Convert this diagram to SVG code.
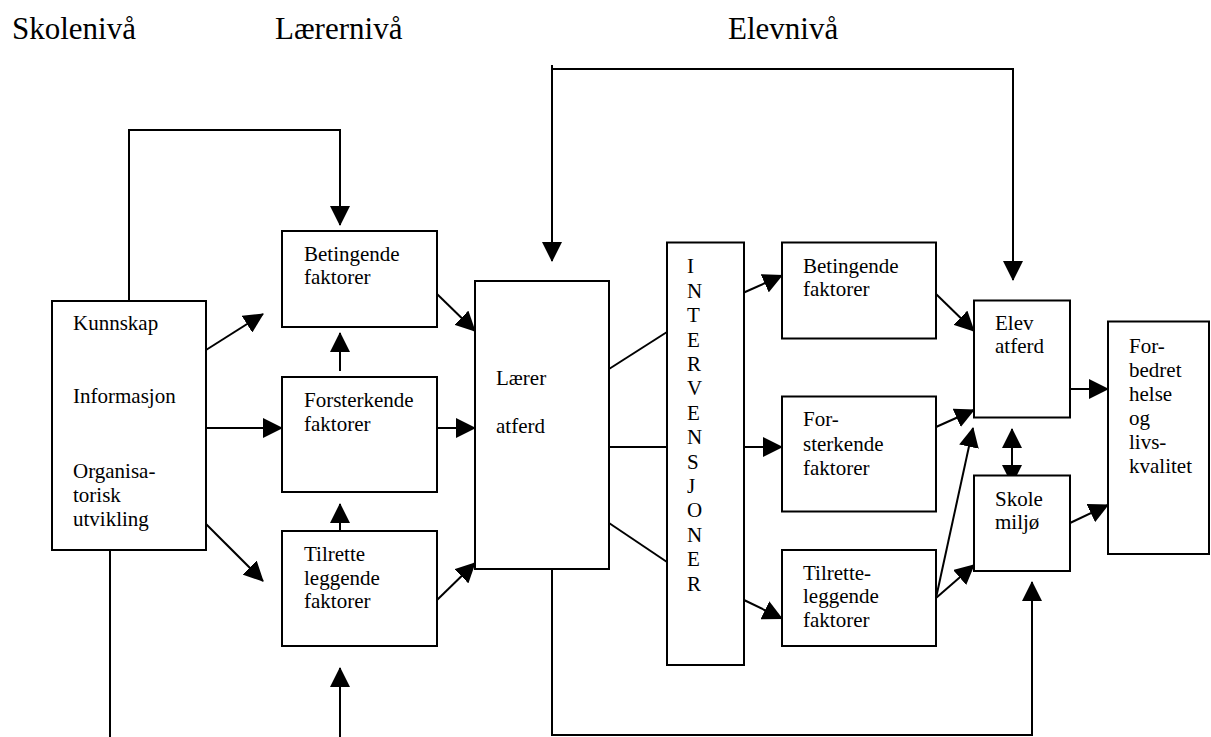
<svg xmlns="http://www.w3.org/2000/svg" width="1211" height="737" viewBox="0 0 1211 737">
<style>
  .box { fill: #fff; stroke: #000; stroke-width: 2; }
  .t { font-family: 'Liberation Serif', 'DejaVu Serif', 'Times New Roman', serif; font-size: 21px; fill: #000; }
  .h { font-family: 'Liberation Serif', 'DejaVu Serif', 'Times New Roman', serif; font-size: 31px; fill: #000; }
  .c { fill: none; stroke: #000; stroke-width: 2; }
</style>
<defs>
  <marker id="ah" markerUnits="userSpaceOnUse" markerWidth="20" markerHeight="20" refX="19" refY="10" orient="auto-start-reverse">
    <path d="M0,0 L20,10 L0,20 z" fill="#000"/>
  </marker>
</defs>
<rect width="1211" height="737" fill="#fff"/>

<g id="headers">
  <text class="h" x="12" y="39">Skolenivå</text>
  <text class="h" x="275" y="39">Lærernivå</text>
  <text class="h" x="728" y="39">Elevnivå</text>
</g>

<g id="connectors">
  <path class="c" d="M129,301 L129,130 L340,130 L340,225" marker-end="url(#ah)"/>
  <path class="c" d="M110,551 L110,737"/>
  <path class="c" d="M340,737 L340,668" marker-end="url(#ah)"/>
  <path class="c" d="M206,350 L263,314" marker-end="url(#ah)"/>
  <path class="c" d="M206,428 L282,428" marker-end="url(#ah)"/>
  <path class="c" d="M206,524 L263,581" marker-end="url(#ah)"/>
  <path class="c" d="M340,371 L340,333" marker-end="url(#ah)"/>
  <path class="c" d="M340,530 L340,504" marker-end="url(#ah)"/>
  <path class="c" d="M437,294 L475,331" marker-end="url(#ah)"/>
  <path class="c" d="M437,428 L475,428" marker-end="url(#ah)"/>
  <path class="c" d="M437,600 L475,563" marker-end="url(#ah)"/>
  <path class="c" d="M552,65 L552,69 L1013,69 L1013,280" marker-end="url(#ah)"/>
  <path class="c" d="M552,69 L552,261" marker-end="url(#ah)"/>
  <path class="c" d="M609,369 L667,332"/>
  <path class="c" d="M609,447 L667,447"/>
  <path class="c" d="M609,523 L667,562"/>
  <path class="c" d="M744,292.5 L782,275.5" marker-end="url(#ah)"/>
  <path class="c" d="M744,447 L782,447" marker-end="url(#ah)"/>
  <path class="c" d="M744,600 L782,618.5" marker-end="url(#ah)"/>
  <path class="c" d="M936,294 L974,331" marker-end="url(#ah)"/>
  <path class="c" d="M936,427 L974,410" marker-end="url(#ah)"/>
  <path class="c" d="M936,598 L973,428" marker-end="url(#ah)"/>
  <path class="c" d="M936,598 L974,565" marker-end="url(#ah)"/>
  <path class="c" d="M1012,484 L1012,429" marker-start="url(#ah)" marker-end="url(#ah)"/>
  <path class="c" d="M1070,389 L1108,389" marker-end="url(#ah)"/>
  <path class="c" d="M1070,523 L1108,505" marker-end="url(#ah)"/>
  <path class="c" d="M552,569 L552,735 L1032,735 L1032,582" marker-end="url(#ah)"/>
</g>

<g id="node-kunnskap">
  <rect class="box" x="52" y="301" width="154" height="249"/>
  <text class="t" x="73" y="330">Kunnskap</text>
  <text class="t" x="73" y="403">Informasjon</text>
  <text class="t" x="73" y="478">Organisa-</text>
  <text class="t" x="73" y="502">torisk</text>
  <text class="t" x="73" y="526">utvikling</text>
</g>

<g id="node-betingende-l">
  <rect class="box" x="282" y="231" width="155" height="96"/>
  <text class="t" x="304" y="261">Betingende</text>
  <text class="t" x="304" y="284">faktorer</text>
</g>

<g id="node-forsterkende-l">
  <rect class="box" x="282" y="377" width="155" height="115"/>
  <text class="t" x="304" y="407">Forsterkende</text>
  <text class="t" x="304" y="431">faktorer</text>
</g>

<g id="node-tilrette-l">
  <rect class="box" x="282" y="531" width="155" height="115"/>
  <text class="t" x="304" y="561">Tilrette</text>
  <text class="t" x="304" y="585">leggende</text>
  <text class="t" x="304" y="608">faktorer</text>
</g>

<g id="node-laerer">
  <rect class="box" x="475" y="281" width="134" height="288"/>
  <text class="t" x="496" y="385">Lærer</text>
  <text class="t" x="496" y="433">atferd</text>
</g>

<g id="node-intervensjoner">
  <rect class="box" x="667" y="242.5" width="77" height="422.5"/>
  <text class="t" x="687" y="273.3">I</text>
  <text class="t" x="687" y="297.7">N</text>
  <text class="t" x="687" y="322.1">T</text>
  <text class="t" x="687" y="346.5">E</text>
  <text class="t" x="687" y="370.9">R</text>
  <text class="t" x="687" y="395.3">V</text>
  <text class="t" x="687" y="419.7">E</text>
  <text class="t" x="687" y="444.1">N</text>
  <text class="t" x="687" y="468.5">S</text>
  <text class="t" x="687" y="492.9">J</text>
  <text class="t" x="687" y="517.3">O</text>
  <text class="t" x="687" y="541.7">N</text>
  <text class="t" x="687" y="566.1">E</text>
  <text class="t" x="687" y="590.5">R</text>
</g>

<g id="node-betingende-r">
  <rect class="box" x="782" y="242.5" width="154" height="96"/>
  <text class="t" x="803" y="273">Betingende</text>
  <text class="t" x="803" y="296">faktorer</text>
</g>

<g id="node-forsterkende-r">
  <rect class="box" x="782" y="396.5" width="154" height="115"/>
  <text class="t" x="803" y="426">For-</text>
  <text class="t" x="803" y="451">sterkende</text>
  <text class="t" x="803" y="475">faktorer</text>
</g>

<g id="node-tilrette-r">
  <rect class="box" x="782" y="550" width="154" height="96"/>
  <text class="t" x="803" y="580">Tilrette-</text>
  <text class="t" x="803" y="603">leggende</text>
  <text class="t" x="803" y="627">faktorer</text>
</g>

<g id="node-elev">
  <rect class="box" x="974" y="300.5" width="96" height="117"/>
  <text class="t" x="995" y="330">Elev</text>
  <text class="t" x="995" y="353">atferd</text>
</g>

<g id="node-skole">
  <rect class="box" x="974" y="475.5" width="96" height="95.5"/>
  <text class="t" x="995" y="506">Skole</text>
  <text class="t" x="995" y="529">miljø</text>
</g>

<g id="node-forbedret">
  <rect class="box" x="1108" y="321.5" width="101" height="232.5"/>
  <text class="t" x="1129" y="353">For-</text>
  <text class="t" x="1129" y="377">bedret</text>
  <text class="t" x="1129" y="401">helse</text>
  <text class="t" x="1129" y="425">og</text>
  <text class="t" x="1129" y="449">livs-</text>
  <text class="t" x="1129" y="473">kvalitet</text>
</g>
</svg>
